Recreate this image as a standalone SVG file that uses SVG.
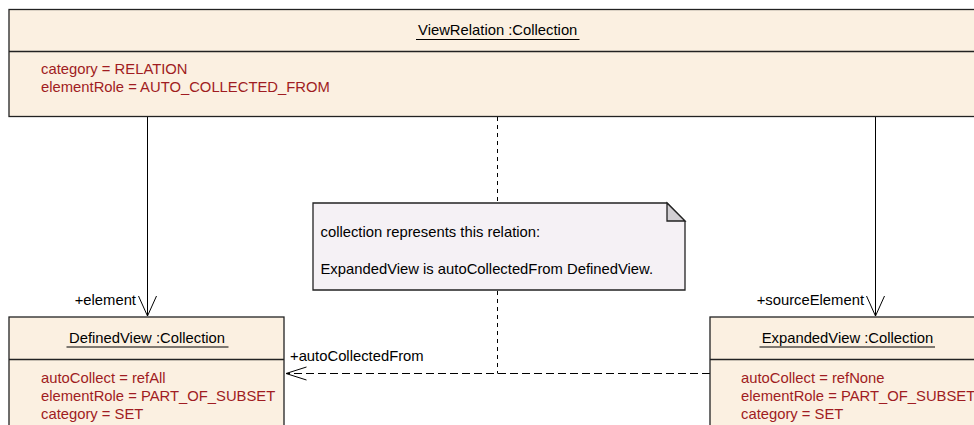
<svg xmlns="http://www.w3.org/2000/svg" width="974" height="425" viewBox="0 0 974 425">
<style>
.box{fill:#fbf0e1;stroke:#222;stroke-width:1.3}
.div{stroke:#222;stroke-width:1.3}
.t{font-family:"Liberation Sans",Arial,sans-serif;font-size:14.8px;fill:#000}
.a{font-family:"Liberation Sans",Arial,sans-serif;font-size:14.8px;fill:#a01c22}
.ul{stroke:#000;stroke-width:1}
.c{stroke:#000;stroke-width:1;fill:none}
.d{stroke:#000;stroke-width:1;fill:none;stroke-dasharray:8,4}
.dv{stroke:#000;stroke-width:1;fill:none;stroke-dasharray:4,4}
.note{fill:#f5f1f5;stroke:#222;stroke-width:1.3}
.fold{fill:#d2cfd3;stroke:#222;stroke-width:1.3}
</style>
<rect width="974" height="425" fill="#fff"/>
<g id="connectors">
  <line class="c" x1="147.5" y1="117" x2="147.5" y2="316"/>
  <polyline class="c" points="138.5,296 147.5,316 156.5,296"/>
  <text class="t" x="136" y="305" text-anchor="end">+element</text>
  <line class="c" x1="875.5" y1="117" x2="875.5" y2="316"/>
  <polyline class="c" points="866.5,296 875.5,316 884.5,296"/>
  <text class="t" x="864" y="305" text-anchor="end">+sourceElement</text>
  <line class="d" x1="710" y1="373.5" x2="287" y2="373.5"/>
  <polyline class="c" points="306.5,367 286,373.5 306.5,380"/>
  <text class="t" x="290" y="361">+autoCollectedFrom</text>
  <line class="dv" x1="497.5" y1="117" x2="497.5" y2="202"/>
  <line class="dv" x1="497.5" y1="291" x2="497.5" y2="373.5"/>
</g>
<g id="ViewRelation">
  <rect class="box" x="9" y="9.5" width="978" height="107"/>
  <line class="div" x1="9" y1="51.5" x2="987" y2="51.5"/>
  <text class="t" x="497.7" y="35" text-anchor="middle">ViewRelation :Collection</text>
  <line class="ul" x1="416" y1="39.5" x2="579.5" y2="39.5"/>
  <text class="a" x="41" y="74">category = RELATION</text>
  <text class="a" x="41" y="92">elementRole = AUTO_COLLECTED_FROM</text>
</g>
<g id="note">
  <path class="note" d="M313,203 H667 L685,221 V290 H313 Z"/>
  <path class="fold" d="M667,203 L685,221 H667 Z"/>
  <text class="t" x="320.5" y="237">collection represents this relation:</text>
  <text class="t" x="320.5" y="273.5">ExpandedView is autoCollectedFrom DefinedView.</text>
</g>
<g id="DefinedView">
  <rect class="box" x="9" y="317" width="275" height="120"/>
  <line class="div" x1="9" y1="359.5" x2="284" y2="359.5"/>
  <text class="t" x="147" y="343" text-anchor="middle">DefinedView :Collection</text>
  <line class="ul" x1="66.5" y1="347" x2="228.5" y2="347"/>
  <text class="a" x="41" y="382.5">autoCollect = refAll</text>
  <text class="a" x="41" y="400.5">elementRole = PART_OF_SUBSET</text>
  <text class="a" x="41" y="418.5">category = SET</text>
</g>
<g id="ExpandedView">
  <rect class="box" x="710" y="317" width="275" height="120"/>
  <line class="div" x1="710" y1="359.5" x2="985" y2="359.5"/>
  <text class="t" x="847.5" y="343" text-anchor="middle">ExpandedView :Collection</text>
  <line class="ul" x1="759.5" y1="347" x2="935" y2="347"/>
  <text class="a" x="741" y="382.5">autoCollect = refNone</text>
  <text class="a" x="741" y="400.5">elementRole = PART_OF_SUBSET</text>
  <text class="a" x="741" y="418.5">category = SET</text>
</g>
</svg>
